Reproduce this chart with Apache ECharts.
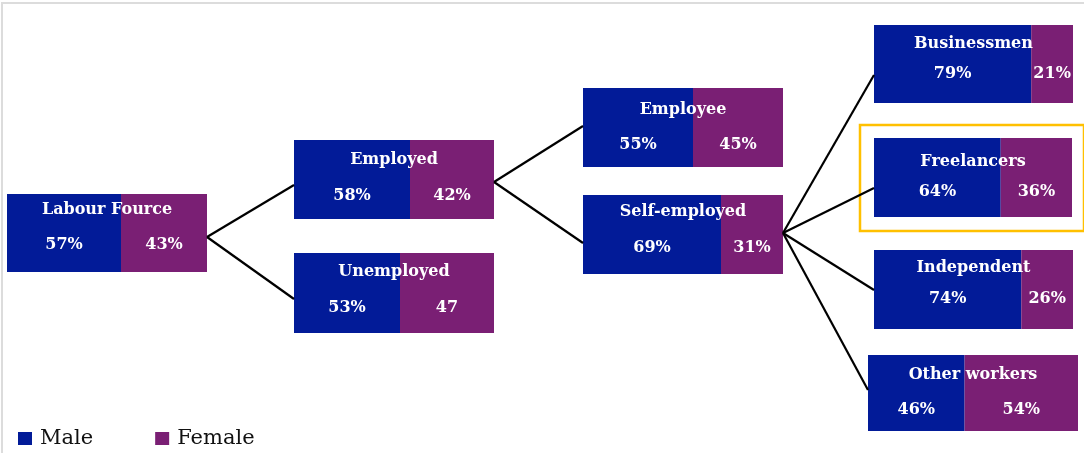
<!DOCTYPE html>
<html>
<head>
<meta charset="utf-8">
<script src="https://cdn.jsdelivr.net/npm/echarts@6/dist/echarts.min.js"></script>
<style>html,body{margin:0;padding:0;background:#fff}#c{width:1084px;height:453px}</style>
</head>
<body>
<div id="c"></div>
<script>
// ---- data ----
const nodeNames   = ['Labour Fource','Employed','Unemployed','Employee','Self-employed','Businessmen','Freelancers','Independent','Other workers'];
const maleValues  = [57, 58, 53, 55, 69, 79, 64, 74, 46];
const femaleValues= [43, 42, 47, 45, 31, 21, 36, 26, 54];
const maleLabels  = ['57%','58%','53%','55%','69%','79%','64%','74%','46%'];
const femaleLabels= ['43%','42%','47','45%','31%','21%','36%','26%','54%'];
const links = [[0,1],[0,2],[1,3],[1,4],[4,5],[4,6],[4,7],[4,8]];
const seriesNames = ['Male','Female'];

// ---- layout (positions / sizes / styles) ----
const boxes = [ // x, y, w, h, titleOffset, valueOffset
  [7,194,200,78,16,51],
  [294,140,200,79,20,56],
  [294,253,200,80,19,55],
  [583,88,200,79,22,57],
  [583,195,200,79,17,53],
  [874,25,199,78,19,49],
  [874,138,198,79,24,54],
  [874,250,199,79,18,49],
  [868,355,210,76,20,55]
];
const linkAnchors = [ // source y, target y
  [237,185],[237,299],[182,126],[182,243],[233,75],[233,188],[233,290],[233,390]
];
const MALE_COLOR = '#021b98';
const FEMALE_COLOR = '#7a1f74';
const FONT = '"DejaVu Serif", "Liberation Serif", serif';

const grid = [], xAxis = [], yAxis = [], series = [], graphic = [];
boxes.forEach((b, i) => {
  const [x, y, w, h, tOff, vOff] = b;
  grid.push({left: x, top: y, width: w, height: h, containLabel: false});
  xAxis.push({type: 'value', gridIndex: i, min: 0, max: 100, show: false});
  yAxis.push({type: 'category', gridIndex: i, data: [nodeNames[i]], show: false});
  const vals = [maleValues, femaleValues];
  const labs = [maleLabels, femaleLabels];
  const cols = [MALE_COLOR, FEMALE_COLOR];
  for (let s = 0; s < 2; s++) {
    series.push({
      type: 'bar', name: seriesNames[s], xAxisIndex: i, yAxisIndex: i,
      stack: 'node' + i, barWidth: '100%', data: [vals[s][i]],
      itemStyle: {color: cols[s]},
      label: {
        show: true, position: 'inside', formatter: labs[s][i],
        color: '#fff', fontFamily: FONT, fontWeight: 'bold', fontSize: 16,
        offset: [0, vOff - h / 2]
      },
      emphasis: {disabled: true}
    });
  }
  graphic.push({
    type: 'text', z: 100,
    style: {text: nodeNames[i], x: x + w / 2, y: y + tOff, align: 'center', verticalAlign: 'middle',
      fill: '#fff', font: 'bold 16px ' + FONT}
  });
});
links.forEach((l, k) => {
  const s = boxes[l[0]], t = boxes[l[1]];
  graphic.push({
    type: 'line', z: 50,
    shape: {x1: s[0] + s[2], y1: linkAnchors[k][0], x2: t[0], y2: linkAnchors[k][1]},
    style: {stroke: '#000', lineWidth: 2.2}
  });
});
// outer frame and highlight box
graphic.push({type: 'rect', z: 1, shape: {x: 2, y: 3, width: 1100, height: 470},
  style: {fill: 'none', stroke: '#dcdcdc', lineWidth: 2}});
graphic.push({type: 'rect', z: 1, shape: {x: 860, y: 125, width: 224, height: 106},
  style: {fill: 'none', stroke: '#ffc000', lineWidth: 2.5}});

const chart = echarts.init(document.getElementById('c'));
chart.setOption({
  animation: false,
  grid, xAxis, yAxis, series, graphic,
  legend: {
    data: seriesNames, left: 13, top: 423, icon: 'rect', itemWidth: 14, itemHeight: 13,
    itemGap: 62, selectedMode: false,
    textStyle: {fontFamily: FONT, fontSize: 21, color: '#111', padding: [0, 0, 0, 3]}
  },
  tooltip: {show: false}
});
</script>
</body>
</html>
